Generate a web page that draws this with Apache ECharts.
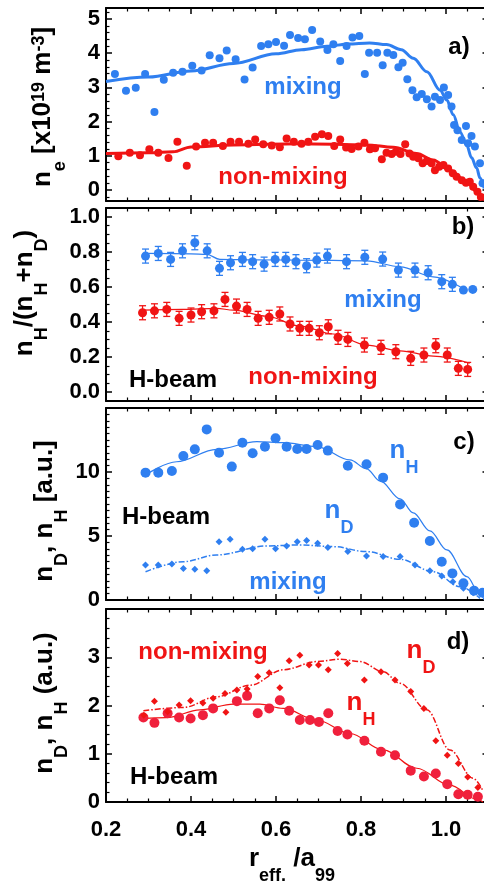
<!DOCTYPE html>
<html><head><meta charset="utf-8">
<script src="https://cdn.jsdelivr.net/npm/echarts@6/dist/echarts.min.js"></script>
<style>html,body{margin:0;padding:0;background:#fff}#c{width:484px;height:886px}</style>
</head><body><div id="c"></div>
<script>
// ---------- Panel a: electron density ----------
const aMixX = [0.221,0.247,0.270,0.292,0.314,0.336,0.358,0.380,0.403,0.425,0.444,0.467,0.484,0.505,0.526,0.545,0.565,0.582,0.600,0.619,0.633,0.652,0.668,0.685,0.704,0.721,0.735,0.751,0.766,0.780,0.796,0.809,0.819,0.838,0.851,0.862,0.876,0.888,0.898,0.909,0.921,0.931,0.943,0.955,0.966,0.974,0.986,0.995,1.005,1.013,1.019,1.027,1.037,1.047,1.052,1.060,1.068,1.080,1.086];
const aMixY = [3.39,2.90,2.99,3.39,2.28,3.22,3.43,3.46,3.63,3.49,3.94,3.85,4.08,3.82,3.23,3.58,4.21,4.26,4.33,4.22,4.53,4.44,4.41,4.68,4.34,4.09,4.26,3.77,4.21,4.46,4.50,3.39,4.01,4.01,3.65,4.01,3.95,3.59,3.72,3.24,2.92,2.71,2.81,2.65,2.44,2.73,2.63,3.00,2.78,2.44,1.90,1.75,1.46,1.87,1.37,1.58,1.27,0.78,0.20];
const aNonX = [0.229,0.256,0.280,0.302,0.323,0.347,0.368,0.390,0.412,0.433,0.452,0.475,0.493,0.513,0.535,0.551,0.570,0.590,0.609,0.625,0.642,0.660,0.676,0.692,0.708,0.723,0.737,0.751,0.765,0.778,0.794,0.808,0.821,0.833,0.849,0.860,0.872,0.882,0.893,0.904,0.914,0.923,0.935,0.945,0.955,0.966,0.974,0.984,0.994,1.005,1.016,1.025,1.037,1.047,1.056,1.064,1.074,1.082];
const aNonY = [0.99,1.09,1.02,1.19,1.09,0.94,1.41,0.71,1.27,1.38,1.38,1.29,1.41,1.41,1.35,1.48,1.34,1.30,1.25,1.51,1.41,1.35,1.41,1.56,1.63,1.58,1.29,1.48,1.24,1.20,1.27,1.38,1.19,1.22,0.90,1.09,1.05,1.12,1.05,1.34,1.07,0.97,0.93,0.78,0.85,0.78,0.58,0.68,0.73,0.63,0.49,0.39,0.29,0.21,0.24,0.10,-0.05,-0.20];
const aMixFitX = [0.2,0.30,0.40,0.50,0.60,0.66,0.72,0.77,0.82,0.86,0.895,0.923,0.955,0.986,1.002,1.017,1.033,1.049,1.06,1.072,1.08,1.09];
const aMixFitY = [3.17,3.30,3.48,3.70,3.98,4.10,4.20,4.27,4.30,4.25,4.10,3.85,3.46,2.92,2.63,2.20,1.70,1.30,0.95,0.65,0.35,0.05];
const aNonFitX = [0.2,0.30,0.358,0.40,0.5,0.656,0.813,0.876,0.931,0.97,1.009,1.049,1.072,1.09];
const aNonFitY = [1.07,1.09,1.12,1.26,1.32,1.35,1.32,1.25,1.07,0.88,0.58,0.24,-0.05,-0.30];

// ---------- Panel b: nH/(nH+nD) ----------
const bMixX = [0.293,0.323,0.352,0.380,0.409,0.438,0.467,0.493,0.521,0.545,0.572,0.598,0.623,0.647,0.672,0.696,0.721,0.766,0.809,0.851,0.888,0.927,0.958,0.990,1.015,1.041,1.063];
const bMixY = [0.776,0.791,0.757,0.806,0.852,0.806,0.706,0.738,0.757,0.744,0.730,0.757,0.757,0.744,0.721,0.753,0.776,0.744,0.769,0.759,0.696,0.696,0.681,0.630,0.615,0.582,0.586];
const bMixErr = [0.04,0.04,0.04,0.04,0.04,0.04,0.04,0.04,0.04,0.04,0.04,0.04,0.04,0.04,0.04,0.04,0.04,0.04,0.04,0.04,0.04,0.04,0.04,0.04,0.04,0,0];
const bNonX = [0.286,0.314,0.343,0.372,0.400,0.425,0.454,0.480,0.507,0.532,0.558,0.584,0.609,0.633,0.656,0.678,0.702,0.723,0.746,0.769,0.808,0.847,0.882,0.917,0.948,0.976,1.003,1.029,1.051];
const bNonY = [0.453,0.464,0.472,0.421,0.440,0.459,0.464,0.529,0.491,0.472,0.421,0.427,0.446,0.389,0.364,0.364,0.339,0.373,0.313,0.301,0.269,0.256,0.231,0.193,0.212,0.265,0.212,0.136,0.130];
const bNonErr = [0.04,0.04,0.04,0.04,0.04,0.04,0.04,0.04,0.04,0.04,0.04,0.04,0.04,0.04,0.04,0.04,0.04,0.04,0.04,0.04,0.04,0.04,0.04,0.04,0.04,0.04,0.04,0.04,0.04];
const bMixFitX = [0.293,0.40,0.437,0.468,0.55,0.656,0.813,0.892,0.97,1.049];
const bMixFitY = [0.791,0.789,0.786,0.757,0.754,0.753,0.749,0.715,0.658,0.578];
const bNonFitX = [0.286,0.38,0.46,0.5,0.578,0.656,0.735,0.813,0.892,0.97,1.056];
const bNonFitY = [0.468,0.472,0.478,0.468,0.433,0.377,0.332,0.269,0.236,0.206,0.165];

// ---------- Panel c: mixing nD, nH ----------
const cHX = [0.293,0.323,0.355,0.382,0.409,0.437,0.466,0.496,0.521,0.545,0.574,0.599,0.625,0.650,0.672,0.698,0.722,0.769,0.813,0.852,0.892,0.925,0.962,0.990,1.015,1.041,1.066,1.086];
const cHY = [9.95,9.95,10.08,11.25,11.77,13.33,11.51,10.42,12.29,11.46,11.98,12.63,11.98,11.80,11.80,12.11,11.67,10.49,10.60,9.56,7.47,6.04,4.61,2.99,2.08,1.30,0.73,0.57];
const cDX = [0.293,0.323,0.355,0.382,0.409,0.437,0.466,0.492,0.521,0.545,0.574,0.599,0.625,0.650,0.672,0.698,0.722,0.769,0.813,0.852,0.892,0.927,0.962,0.990,1.016,1.041,1.064];
const cDY = [2.73,2.73,2.81,2.47,2.40,2.29,4.56,4.74,3.96,4.01,4.74,4.01,4.22,4.56,4.64,4.43,4.11,3.78,3.44,3.39,3.39,2.73,2.29,1.88,1.43,0.91,0.57];
const cHFitX = [0.293,0.366,0.46,0.555,0.617,0.696,0.774,0.813,0.845,0.892,0.923,0.962,1.002,1.049,1.08,1.09];
const cHFitY = [9.77,10.8,11.77,12.37,12.29,11.98,10.94,10.25,9.3,7.9,6.8,5.4,3.91,1.82,0.45,0.0];
const cDFitX = [0.293,0.382,0.46,0.578,0.656,0.735,0.813,0.892,0.97,1.033,1.08];
const cDFitY = [2.21,2.99,3.52,4.22,4.30,4.17,3.78,3.18,2.21,1.04,0.13];

// ---------- Panel d: non-mixing nD, nH ----------
const dHX = [0.288,0.314,0.345,0.372,0.399,0.428,0.452,0.508,0.532,0.557,0.584,0.609,0.631,0.656,0.680,0.701,0.723,0.745,0.768,0.808,0.847,0.880,0.917,0.948,0.976,1.003,1.029,1.051,1.075];
const dHY = [1.75,1.64,1.84,1.75,1.73,1.80,1.94,2.09,2.20,1.84,1.94,2.11,1.89,1.70,1.70,1.66,1.84,1.47,1.40,1.27,1.04,0.97,0.65,0.53,0.59,0.37,0.16,0.15,0.11];
const dDX = [0.289,0.314,0.345,0.372,0.399,0.428,0.452,0.480,0.482,0.508,0.532,0.557,0.584,0.609,0.631,0.656,0.678,0.700,0.723,0.745,0.768,0.808,0.847,0.880,0.917,0.948,0.976,1.003,1.029,1.051,1.075];
const dDY = [1.80,2.09,1.87,2.01,2.10,2.05,2.15,2.25,1.86,2.32,2.34,2.60,2.68,2.37,2.93,3.04,2.84,2.84,2.74,3.08,2.87,2.53,2.70,2.53,2.29,1.94,1.27,0.97,0.80,0.52,0.30];
const dHFitX = [0.286,0.343,0.421,0.5,0.562,0.617,0.696,0.774,0.852,0.931,1.009,1.072,1.087];
const dHFitY = [1.73,1.75,1.91,2.03,2.03,1.94,1.70,1.42,1.08,0.70,0.35,0.06,0.0];
const dDFitX = [0.288,0.382,0.46,0.539,0.617,0.696,0.751,0.798,0.852,0.892,0.955,1.009,1.064,1.086];
const dDFitY = [1.89,1.96,2.18,2.42,2.74,2.91,2.96,2.91,2.70,2.46,1.91,1.08,0.49,0.25];

// ---------- axis tick labels ----------
const xTickLabels = ['0.2','0.4','0.6','0.8','1.0'];

const BLUE = '#2f7ff0', RED = '#f01414', DRED = '#f0203c';
const FONT = '"Liberation Sans", Arial, sans-serif';

const pairs = (xs, ys) => xs.map((x, i) => [x, ys[i]]);
const triples = (xs, ys, es) => xs.map((x, i) => [x, ys[i], es[i]]);

const gridDefs = [{top: 8, height: 193}, {top: 208, height: 193}, {top: 408, height: 192}, {top: 609, height: 193}];
const yDefs = [
  {min: -0.32, max: 5.32, split: 5, minor: 5, fmt: v => String(v)},
  {min: -0.05, max: 1.05, split: 5, minor: 4, fmt: v => v.toFixed(1)},
  {min: 0, max: 15, split: 3, minor: 10, fmt: v => String(v), interval: 5},
  {min: 0, max: 4, split: 4, minor: 5, fmt: v => String(v), interval: 1}
];

const lineStyleAxis = {color: '#000', width: 2};
const grid = gridDefs.map(g => ({left: 106, width: 382.5, top: g.top, height: g.height, containLabel: false, outerBoundsMode: 'none'}));

const xAxis = [], yAxis = [];
gridDefs.forEach((g, i) => {
  const base = {
    type: 'value', gridIndex: i, min: 0.2, max: 1.1, interval: 0.2,
    axisLine: {show: true, onZero: false, lineStyle: lineStyleAxis},
    axisTick: {show: true, inside: true, length: 6, lineStyle: {color: '#000', width: 1.5}},
    minorTick: {show: true, splitNumber: 4, length: 3.5, lineStyle: {color: '#000', width: 1.2}},
    splitLine: {show: false}, minorSplitLine: {show: false}
  };
  xAxis.push(Object.assign({}, base, {
    position: 'bottom',
    axisLabel: {show: i === 3, fontSize: 22, fontWeight: 'bold', fontFamily: FONT, color: '#000', margin: 17,
      showMaxLabel: false,
      formatter: v => { const k = Math.round((v - 0.2) / 0.2); return (Math.abs(v - 0.2 - k * 0.2) < 1e-6 && xTickLabels[k]) ? xTickLabels[k] : ''; }}
  }));
  xAxis.push(Object.assign({}, base, {position: 'top', axisLabel: {show: false}}));
  const yd = yDefs[i];
  const ybase = {
    type: 'value', gridIndex: i, min: yd.min, max: yd.max, splitNumber: yd.split,
    axisLine: {show: true, onZero: false, lineStyle: lineStyleAxis},
    axisTick: {show: true, inside: true, length: 6, lineStyle: {color: '#000', width: 1.5}},
    splitLine: {show: false}, minorSplitLine: {show: false}
  };
  if (yd.interval) ybase.interval = yd.interval;
  yAxis.push(Object.assign({}, ybase, {
    position: 'left',
    minorTick: {show: true, splitNumber: yd.minor, length: 3.5, lineStyle: {color: '#000', width: 1.2}},
    axisLabel: {show: true, fontSize: 22, fontWeight: 'bold', fontFamily: FONT, color: '#000', margin: 6,
      showMinLabel: i >= 2, showMaxLabel: false, formatter: yd.fmt}
  }));
  yAxis.push(Object.assign({}, ybase, {position: 'right', minorTick: {show: false}, axisLabel: {show: false}}));
});

function scatter(i, xs, ys, color, size, symbol) {
  return {type: 'scatter', xAxisIndex: 2 * i, yAxisIndex: 2 * i, data: pairs(xs, ys), symbol: symbol || 'circle',
    symbolSize: size, itemStyle: {color: color, opacity: 1}, z: 3, clip: false, silent: true};
}
function fit(i, xs, ys, color, width, type) {
  return {type: 'line', xAxisIndex: 2 * i, yAxisIndex: 2 * i, data: pairs(xs, ys), showSymbol: false, symbol: 'none',
    smooth: 0.35, smoothMonotone: 'x', lineStyle: {color: color, width: width, type: type || 'solid'}, z: 2, clip: false, silent: true};
}
function errRender(params, api) {
  const x = api.value(0), y = api.value(1), e = api.value(2);
  if (!e) return null;
  const lo = api.coord([x, y - e]), hi = api.coord([x, y + e]);
  const w = 3.5;
  const style = {stroke: api.visual('color'), lineWidth: 1.3};
  return {type: 'group', children: [
    {type: 'line', shape: {x1: lo[0], y1: lo[1], x2: hi[0], y2: hi[1]}, style: style},
    {type: 'line', shape: {x1: lo[0] - w, y1: lo[1], x2: lo[0] + w, y2: lo[1]}, style: style},
    {type: 'line', shape: {x1: hi[0] - w, y1: hi[1], x2: hi[0] + w, y2: hi[1]}, style: style}
  ]};
}
function errors(i, xs, ys, es, color) {
  return {type: 'custom', xAxisIndex: 2 * i, yAxisIndex: 2 * i, renderItem: errRender, data: triples(xs, ys, es),
    encode: {x: 0, y: 1}, itemStyle: {color: color}, z: 2, silent: true};
}

const dashDot = [6, 2, 1.5, 2];
const series = [
  fit(0, aMixFitX, aMixFitY, BLUE, 3),
  fit(0, aNonFitX, aNonFitY, RED, 3),
  scatter(0, aMixX, aMixY, BLUE, 8),
  scatter(0, aNonX, aNonY, RED, 8),
  fit(1, bMixFitX, bMixFitY, BLUE, 1.2),
  fit(1, bNonFitX, bNonFitY, RED, 1.2),
  errors(1, bMixX, bMixY, bMixErr, BLUE),
  errors(1, bNonX, bNonY, bNonErr, RED),
  scatter(1, bMixX, bMixY, BLUE, 9),
  scatter(1, bNonX, bNonY, RED, 9),
  fit(2, cHFitX, cHFitY, BLUE, 1.2),
  fit(2, cDFitX, cDFitY, BLUE, 1.5, dashDot),
  scatter(2, cHX, cHY, BLUE, 10),
  scatter(2, cDX, cDY, BLUE, 7, 'diamond'),
  fit(3, dHFitX, dHFitY, RED, 1.2),
  fit(3, dDFitX, dDFitY, RED, 1.5, dashDot),
  scatter(3, dHX, dHY, DRED, 10),
  scatter(3, dDX, dDY, RED, 7, 'diamond')
];

// ---------- text ----------
function richSet(color) {
  return {
    m: {fontSize: 26, fontWeight: 'bold', fontFamily: FONT, lineHeight: 40, verticalAlign: 'top', fill: color, color: color},
    s: {fontSize: 18, fontWeight: 'bold', fontFamily: FONT, lineHeight: 18, verticalAlign: 'top', padding: [21, 0, 0, 0], fill: color, color: color},
    p: {fontSize: 18, fontWeight: 'bold', fontFamily: FONT, lineHeight: 18, verticalAlign: 'top', padding: [0, 0, 0, 0], fill: color, color: color}
  };
}
function rtext(text, x, y, color, rot, align) {
  return {type: 'text', x: x, y: y, rotation: rot || 0, silent: true, z: 10,
    style: {text: text, rich: richSet(color), align: align || 'center', verticalAlign: 'middle', fill: color,
      font: 'bold 26px ' + FONT}};
}
function ptext(text, x, y, color, size) {
  return {type: 'text', x: x, y: y, silent: true, z: 10,
    style: {text: text, fill: color, font: 'bold ' + (size || 24) + 'px ' + FONT, align: 'center', verticalAlign: 'middle'}};
}
const R = Math.PI / 2;
const graphic = [
  // axis titles
  rtext('{m|n}{s|e}{m| [x10}{p|19}{m| m}{p|-3}{m|]}', 50, 107, '#000', R),
  rtext('{m|n}{s|H}{m|/(n}{s|H}{m|+n}{s|D}{m|)}', 32, 293, '#000', R),
  rtext('{m|n}{s|D}{m|, n}{s|H}{m| [a.u.]}', 52, 511, '#000', R),
  rtext('{m|n}{s|D}{m|, n}{s|H}{m| (a.u.)}', 52, 703, '#000', R),
  rtext('{m|r}{s|eff.}{m| /a}{s|99}', 292, 866, '#000', 0),
  // panel a
  ptext('a)', 459, 47, '#000'),
  ptext('mixing', 303, 87, BLUE),
  ptext('non-mixing', 283, 177, RED),
  // panel b
  ptext('b)', 463, 227, '#000'),
  ptext('mixing', 383, 300, BLUE),
  ptext('H-beam', 173, 380, '#000'),
  ptext('non-mixing', 313, 377, RED),
  // panel c
  ptext('c)', 464, 442, '#000'),
  rtext('{m|n}{s|H}', 404, 458, BLUE, 0),
  ptext('H-beam', 166, 517, '#000'),
  rtext('{m|n}{s|D}', 339, 518, BLUE, 0),
  ptext('mixing', 288, 582, BLUE),
  // panel d
  ptext('d)', 458, 642, '#000'),
  ptext('non-mixing', 203, 652, RED),
  rtext('{m|n}{s|D}', 421, 658, RED, 0),
  rtext('{m|n}{s|H}', 361, 710, RED, 0),
  ptext('H-beam', 174, 777, '#000')
];

const chart = echarts.init(document.getElementById('c'), null, {renderer: 'canvas'});
chart.setOption({
  animation: false,
  backgroundColor: '#fff',
  grid: grid, xAxis: xAxis, yAxis: yAxis, series: series, graphic: graphic
});
</script></body></html>
